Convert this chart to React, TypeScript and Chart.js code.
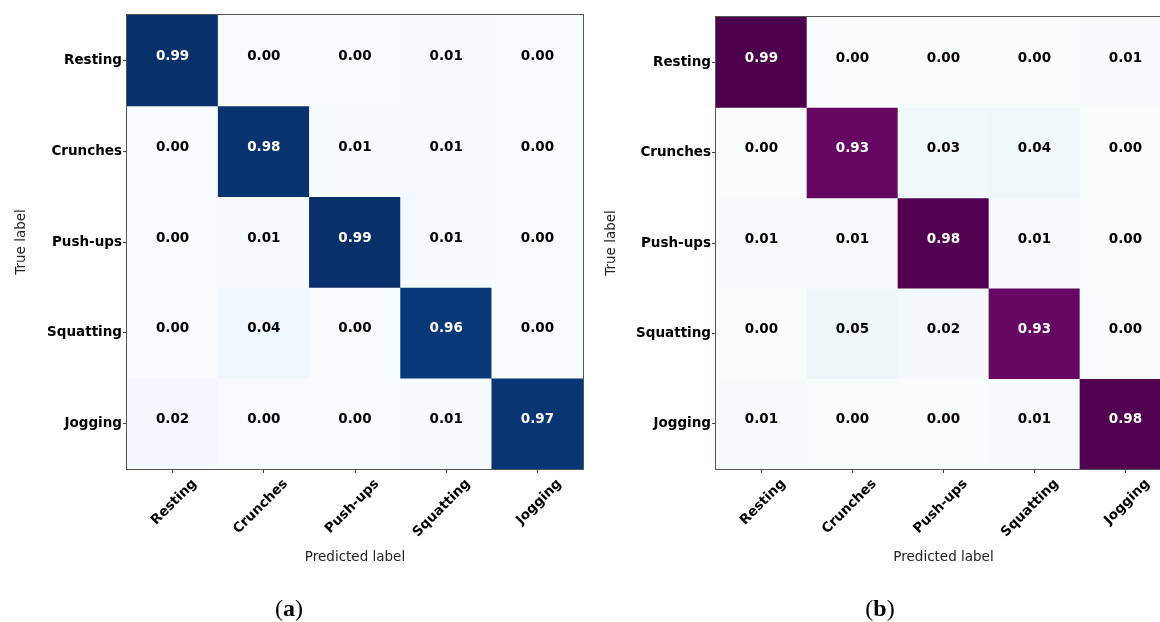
import React, { useEffect, useRef } from "react";
import { Chart, registerables } from "chart.js";

Chart.register(...registerables);

const CLASSES = ["Resting", "Crunches", "Push-ups", "Squatting", "Jogging"];

const MATRIX_A = [
  [0.99, 0.0, 0.0, 0.01, 0.0],
  [0.0, 0.98, 0.01, 0.01, 0.0],
  [0.0, 0.01, 0.99, 0.01, 0.0],
  [0.0, 0.04, 0.0, 0.96, 0.0],
  [0.02, 0.0, 0.0, 0.01, 0.97],
];

const MATRIX_B = [
  [0.99, 0.0, 0.0, 0.0, 0.01],
  [0.0, 0.93, 0.03, 0.04, 0.0],
  [0.01, 0.01, 0.98, 0.01, 0.0],
  [0.0, 0.05, 0.02, 0.93, 0.0],
  [0.01, 0.0, 0.0, 0.01, 0.98],
];

const BLUES = ["#f7fbff", "#deebf7", "#c6dbef", "#9ecae1", "#6baed6", "#4292c6", "#2171b5", "#08519c", "#08306b"];
const BUPU = ["#f7fcfd", "#e0ecf4", "#bfd3e6", "#9ebcda", "#8c96c6", "#8c6bb1", "#88419d", "#810f7c", "#4d004b"];

const X_TITLE = "Predicted label";
const Y_TITLE = "True label";

function hexToRgb(h: string): number[] {
  const n = parseInt(h.slice(1), 16);
  return [(n >> 16) & 255, (n >> 8) & 255, n & 255];
}

function cmap(stops: string[], t: number): string {
  const tt = Math.max(0, Math.min(1, t));
  const pos = tt * (stops.length - 1);
  const i = Math.min(stops.length - 2, Math.floor(pos));
  const f = pos - i;
  const a = hexToRgb(stops[i]);
  const b = hexToRgb(stops[i + 1]);
  const c = a.map((v, k) => Math.round(v + (b[k] - v) * f));
  return `rgb(${c[0]},${c[1]},${c[2]})`;
}

const FONT = "DejaVu Sans";

function makeConfig(matrix: number[][], stops: string[], padTop: number, padRight: number, yWidth: number): any {
  const flat = matrix.flat();
  const vmax = Math.max(...flat);
  const vmin = Math.min(...flat);
  const thresh = vmax / 2;

  const datasets = matrix.map((row, i) => ({
    label: CLASSES[i],
    data: row.map(() => [i, i + 1]),
    values: row,
    backgroundColor: row.map((v) => cmap(stops, (v - vmin) / (vmax - vmin))),
    borderWidth: 0,
    barPercentage: 1,
    categoryPercentage: 1,
    grouped: false,
  }));

  const cellText = {
    id: "cellText",
    afterDatasetsDraw(chart: any) {
      const ctx = chart.ctx;
      ctx.save();
      ctx.font = `bold 13.5px "${FONT}"`;
      ctx.textAlign = "center";
      ctx.textBaseline = "middle";
      chart.data.datasets.forEach((ds: any, di: number) => {
        const meta = chart.getDatasetMeta(di);
        meta.data.forEach((el: any, j: number) => {
          const v = ds.values[j];
          ctx.fillStyle = v > thresh ? "#ffffff" : "#000000";
          ctx.fillText(v.toFixed(2), el.x, (el.y + el.base) / 2 - 4);
        });
      });
      ctx.restore();
    },
  };

  const frame = {
    id: "frame",
    afterDraw(chart: any) {
      const { left, top, right, bottom } = chart.chartArea;
      const ctx = chart.ctx;
      ctx.save();
      ctx.strokeStyle = "#555555";
      ctx.lineWidth = 1;
      ctx.strokeRect(Math.round(left) - 0.5, Math.round(top) - 0.5, Math.round(right - left) + 1, Math.round(bottom - top) + 1);
      ctx.restore();
    },
  };

  return {
    type: "bar",
    data: { labels: CLASSES, datasets },
    plugins: [cellText, frame],
    options: {
      animation: false,
      responsive: false,
      events: [],
      layout: { padding: { top: padTop, right: padRight, left: 0, bottom: 52 } },
      plugins: { legend: { display: false }, tooltip: { enabled: false }, title: { display: false } },
      scales: {
        x: {
          type: "category",
          offset: true,
          afterFit(scale: any) {
            scale.height = 101;
          },
          grid: { display: true, drawOnChartArea: false, drawTicks: true, tickLength: 4, offset: false, color: "#444444" },
          border: { display: false },
          ticks: {
            color: "#000000",
            font: { family: FONT, size: 13.5, weight: "bold" },
            minRotation: 45,
            maxRotation: 45,
            autoSkip: false,
            padding: 3,
            labelOffset: 22,
          },
          title: {
            display: true,
            text: X_TITLE,
            color: "#222222",
            font: { family: FONT, size: 13.5, weight: "normal" },
            padding: { top: 0, bottom: 4 },
          },
        },
        y: {
          type: "linear",
          min: 0,
          max: CLASSES.length,
          reverse: true,
          afterFit(scale: any) {
            scale.width = yWidth;
          },
          afterBuildTicks(scale: any) {
            scale.ticks = CLASSES.map((_, i) => ({ value: i + 0.5 }));
          },
          grid: { display: true, drawOnChartArea: false, drawTicks: true, tickLength: 4, color: "#444444" },
          border: { display: false },
          ticks: {
            color: "#000000",
            font: { family: FONT, size: 13.5, weight: "bold" },
            autoSkip: false,
            padding: 1,
            callback: (value: number) => CLASSES[Math.floor(value)],
          },
          title: {
            display: true,
            text: Y_TITLE,
            color: "#222222",
            font: { family: FONT, size: 13.5, weight: "normal" },
            padding: { top: 13, bottom: 0 },
          },
        },
      },
    },
  };
}

function MatrixChart(props: { matrix: number[][]; stops: string[]; left: number; padTop: number; padRight: number; yWidth: number }) {
  const ref = useRef<HTMLCanvasElement | null>(null);
  useEffect(() => {
    if (!ref.current) return;
    const chart = new Chart(ref.current, makeConfig(props.matrix, props.stops, props.padTop, props.padRight, props.yWidth));
    return () => chart.destroy();
  }, []);
  return (
    <canvas
      ref={ref}
      width={600}
      height={622}
      style={{ position: "absolute", left: props.left, top: 0, width: 600, height: 622 }}
    />
  );
}

const captionStyle: React.CSSProperties = {
  position: "absolute",
  top: 595,
  fontFamily: '"Liberation Serif", serif',
  fontSize: 24,
  lineHeight: "26px",
  textAlign: "center",
  color: "#000",
};

export default function App() {
  return (
    <div style={{ position: "fixed", left: 0, top: 0, width: 1160, height: 622, overflow: "hidden", background: "#fff" }}>
      <MatrixChart matrix={MATRIX_A} stops={BLUES} left={0} padTop={15} padRight={17} yWidth={127} />
      <MatrixChart matrix={MATRIX_B} stops={BUPU} left={590} padTop={17} padRight={19} yWidth={126} />
      <div style={{ ...captionStyle, left: 239, width: 100 }}>
        (<b>a</b>)
      </div>
      <div style={{ ...captionStyle, left: 830, width: 100 }}>
        (<b>b</b>)
      </div>
    </div>
  );
}
